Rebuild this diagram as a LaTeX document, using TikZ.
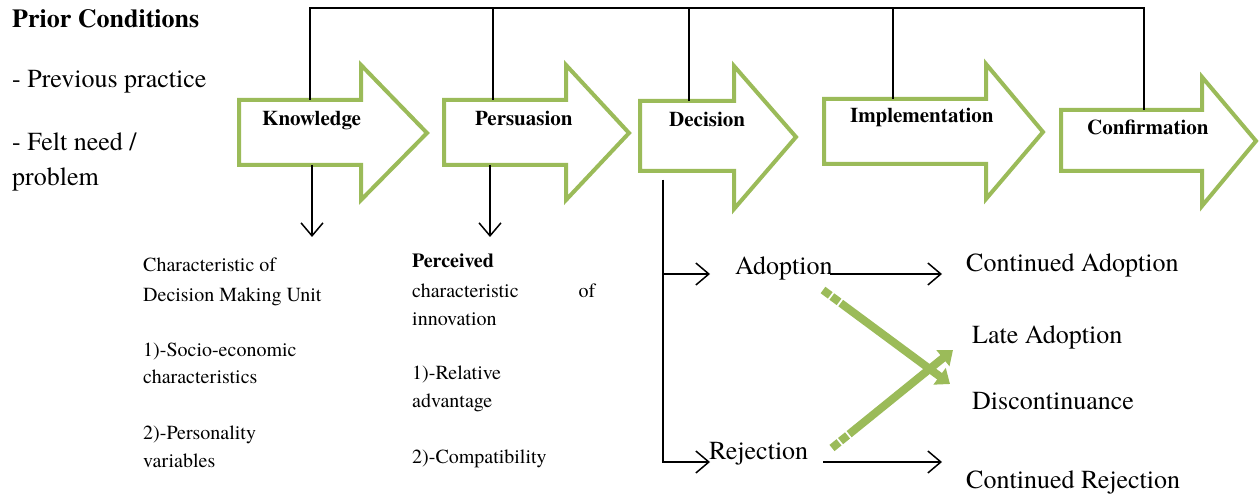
\documentclass[tikz,border=0pt]{standalone}
\usepackage{fontspec}
\setmainfont{texgyretermes}[Extension=.otf, UprightFont=*-regular, BoldFont=*-bold]
\usetikzlibrary{arrows.meta}
\definecolor{olive}{HTML}{9BBB59}
\tikzstyle{stage} = [draw=olive, line width=4pt, line join=miter, fill=white]
\tikzstyle{stagetext} = [inner sep=0pt, anchor=base west, font=\fontsize{21}{25}\selectfont\bfseries]
\tikzstyle{prior} = [inner sep=0pt, anchor=base west, font=\fontsize{26}{30}\selectfont]
\tikzstyle{note} = [inner sep=0pt, anchor=base west, font=\fontsize{20}{24}\selectfont]
\tikzstyle{outcome} = [inner sep=0pt, anchor=base west, font=\fontsize{26}{30}\selectfont]

\begin{document}
\begin{tikzpicture}[
x=1pt, y=-1pt,
topline/.style = {line width=1.5pt},
link/.style = {line width=1.5pt, -{Straight Barb[length=13pt,width=22pt]}},
swing/.style = {draw=olive, line width=8pt,
   dash pattern=on 9pt off 2pt on 9pt off 2pt on 400pt,
   -{Triangle[length=13pt,width=20pt]}}
                        ]
\useasboundingbox (0,0) rectangle (1260,494);

% prior conditions
\node[prior, font=\fontsize{26}{30}\selectfont\bfseries] (prior) at (12,28) {Prior Conditions};
\node[prior] (prev) at (12,88) {- Previous practice};
\node[prior] (felt) at (12,151) {- Felt need /};
\node[prior] (prob) at (12,186) {problem};

% stage arrows
\draw[stage] (239,100) -- (361,100) -- (361,65) -- (427,133) -- (361,200) -- (361,165) -- (239,165) -- cycle;
\draw[stage] (444,100) -- (566,100) -- (566,65) -- (629,133) -- (566,200) -- (566,165) -- (444,165) -- cycle;
\draw[stage] (640,101) -- (734,101) -- (734,66) -- (796,137) -- (734,209) -- (734,171) -- (640,171) -- cycle;
\draw[stage] (824,99) -- (986,99) -- (986,64) -- (1043,132) -- (986,199) -- (986,164) -- (824,164) -- cycle;
\draw[stage] (1061,110) -- (1202,110) -- (1202,77) -- (1256,141) -- (1202,206) -- (1202,171) -- (1061,171) -- cycle;

\node[stagetext] (know) at (262,126) {Knowledge};
\node[stagetext] (pers) at (475,126) {Persuasion};
\node[stagetext] (dec) at (669,127) {Decision};
\node[stagetext] (impl) at (850,123) {Implementation};
\node[stagetext] (conf) at (1087,135) {Confirmation};

% top line
\coordinate (top) at (0,8);
\coordinate (know-top) at (310,100);
\coordinate (pers-top) at (493,100);
\coordinate (dec-top) at (689,101);
\coordinate (impl-top) at (893,99);
\coordinate (conf-top) at (1144,110);
\draw[topline] (know-top) -- (know-top |- top) -- (conf-top |- top) -- (conf-top);
\foreach \s in {pers, dec, impl}
  \draw[topline] (\s-top) -- (\s-top |- top);

% knowledge and persuasion
\coordinate (know-bot) at (312,165);
\coordinate (know-end) at (312,237);
\coordinate (pers-bot) at (490,165);
\coordinate (pers-end) at (490,237);
\draw[link] (know-bot) -- (know-end);
\draw[link] (pers-bot) -- (pers-end);

\node[note] (unit1) at (143,272) {Characteristic of};
\node[note] (unit2) at (143,301) {Decision Making Unit};
\node[note] (socio1) at (143,356) {1)-Socio-economic};
\node[note] (socio2) at (143,383) {characteristics};
\node[note] (person1) at (143,439) {2)-Personality};
\node[note] (person2) at (143,467) {variables};

\node[note] (perc1) at (412,268) {\textbf{Perceived}};
\node[note] (perc2) at (412,297) {\makebox[183pt][l]{characteristic\hfill of}};
\node[note] (perc3) at (412,325) {innovation};
\node[note] (rel1) at (412,379) {1)-Relative};
\node[note] (rel2) at (412,407) {advantage};
\node[note] (compat) at (412,463) {2)-Compatibility};

% decision branches
\coordinate (dec-bot) at (663,180);
\coordinate (adopt-in) at (710,274);
\coordinate (reject-in) at (710,462);
\draw[link] (dec-bot) |- (adopt-in);
\draw[link] (dec-bot) |- (reject-in);

\node[outcome] (adopt) at (735,274) {Adoption};
\node[outcome] (reject) at (709,459) {Rejection};

\node[outcome] (cadopt) at (966,272) {Continued Adoption};
\node[outcome] (late) at (972,343) {Late Adoption};
\node[outcome] (disc) at (972,409) {Discontinuance};
\node[outcome] (creject) at (966,488) {Continued Rejection};

\coordinate (adopt-out) at (830,274);
\coordinate (cadopt-in) at (942,274);
\coordinate (reject-out) at (823,462);
\coordinate (creject-in) at (942,462);
\draw[link] (adopt-out) -- (cadopt-in);
\draw[link] (reject-out) -- (creject-in);

% change of mind
\coordinate (adopt-turn) at (823,290);
\coordinate (disc-in) at (950,384);
\coordinate (reject-turn) at (832,448);
\coordinate (late-in) at (953,350);
\draw[swing] (adopt-turn) -- (disc-in);
\draw[swing] (reject-turn) -- (late-in);
\end{tikzpicture}
\end{document}
